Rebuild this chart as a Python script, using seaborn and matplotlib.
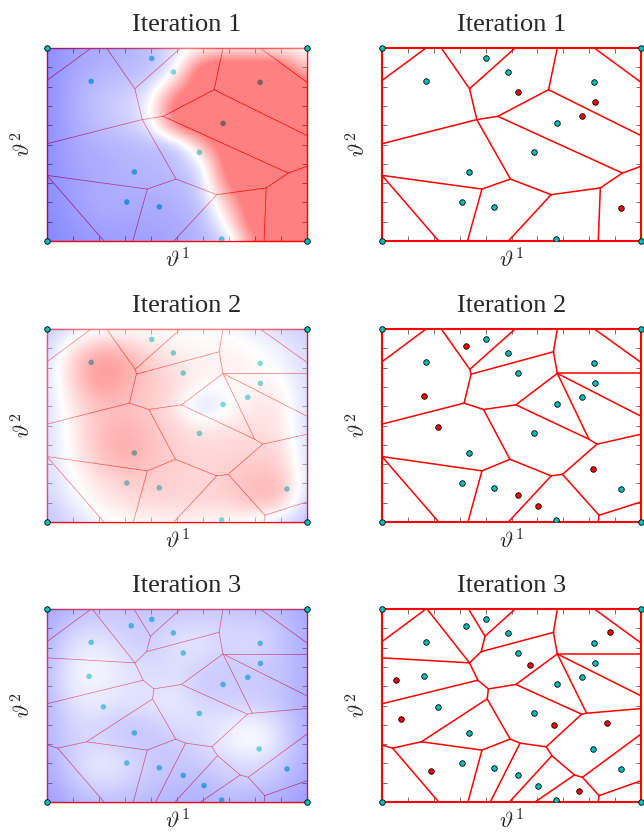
import numpy as np
import matplotlib
matplotlib.use("Agg")
import matplotlib.pyplot as plt
import seaborn as sns

# ---------------- data ----------------
titles = ["Iteration 1", "Iteration 2", "Iteration 3"]
tick_values = [0.0, 0.1, 0.2, 0.3, 0.4, 0.5, 0.6, 0.7, 0.8, 0.9, 1.0]

corner_x = [0.0, 1.0, 0.0, 1.0]
corner_y = [0.0, 0.0, 1.0, 1.0]

# samples available at iteration 1
base_x = [0.403, 0.486, 0.170, 0.820, 0.677, 0.586, 0.336, 0.307, 0.432, 0.672]
base_y = [0.946, 0.876, 0.827, 0.822, 0.609, 0.459, 0.358, 0.202, 0.177, 0.010]
# new samples proposed at each iteration (red)
new1_x = [0.524, 0.821, 0.772, 0.923]
new1_y = [0.772, 0.718, 0.646, 0.171]
new2_x = [0.324, 0.162, 0.217, 0.816, 0.524, 0.604]
new2_y = [0.913, 0.651, 0.493, 0.275, 0.138, 0.085]
new3_x = [0.879, 0.571, 0.053, 0.073, 0.663, 0.870, 0.188, 0.761]
new3_y = [0.879, 0.712, 0.633, 0.431, 0.398, 0.407, 0.160, 0.055]

# Voronoi tessellation per iteration: vertices and edges (index pairs)
vor1_vx = [0, 0.170, 0.229, 0.338, 0.514, 0.366, 0, 0.447, 0.643, 0.677, 1, 0.820,
           1, 0.928, 1, 0.843, 0.496, 0.386, 0, 0.219, 0.330, 0.653, 0.488, 0.835]
vor1_vy = [0.832, 1, 1, 0.789, 1, 0.629, 0.504, 0.646, 0.784, 1, 0.546, 1,
           0.822, 0.352, 0.387, 0.275, 0.321, 0.269, 0.340, 0, 0, 0.240, 0, 0]
vor1_edges = [(0, 1), (2, 3), (3, 4), (3, 5), (6, 5), (5, 7), (7, 8), (8, 9), (8, 10),
              (11, 12), (7, 13), (13, 14), (13, 15), (5, 16), (16, 17), (18, 17),
              (18, 19), (17, 20), (16, 21), (21, 15), (21, 22), (15, 23)]

vor2_vx = [0, 0.170, 0.229, 0.339, 0.514, 0.344, 0.662, 0.677, 0.677, 1, 0.820, 1,
           0.517, 0.799, 1, 0.830, 1, 0.697, 0.317, 0, 0.392, 0.494, 0.386, 0,
           0.219, 0.332, 0.653, 0.488, 0.838, 1, 0.835]
vor2_vy = [0.830, 1, 1, 0.791, 1, 0.766, 0.882, 1, 0.770, 0.770, 1, 0.827,
           0.607, 0.429, 0.548, 0.403, 0.455, 0.247, 0.616, 0.507, 0.583, 0.325,
           0.265, 0.339, 0, 0, 0.239, 0, 0.035, 0.104, 0]
vor2_edges = [(0, 1), (2, 3), (3, 4), (3, 5), (5, 6), (6, 7), (6, 8), (8, 9), (8, 12),
              (8, 14), (8, 13), (10, 11), (5, 18), (18, 19), (18, 20), (20, 12),
              (12, 13), (13, 15), (15, 16), (15, 17), (20, 21), (21, 22), (23, 22),
              (23, 24), (22, 25), (21, 26), (26, 17), (26, 27), (17, 28), (28, 29),
              (28, 30)]

vor3_vx = [0, 0.170, 0.174, 0.338, 0.334, 0.398, 0.514, 0.383, 0.662, 0.677, 0.677,
           1, 0.820, 1, 0, 0.370, 0, 0.411, 0.517, 1, 0.771, 0.790, 1, 0.406,
           0.152, 0.041, 0, 0.219, 0.495, 0.386, 0.332, 0.533, 0.418, 0.634, 0.656,
           0.492, 0.743, 0.591, 0.774, 1, 0.838, 1, 0.835]
vor3_vy = [0.831, 1, 1, 0.721, 1, 0.859, 1, 0.779, 0.879, 1, 0.767, 0.767, 1, 0.824,
           0.747, 0.631, 0.509, 0.586, 0.609, 0.550, 0.455, 0.460, 0.484, 0.534,
           0.312, 0.279, 0.295, 0, 0.326, 0.269, 0, 0.305, 0, 0.286, 0.240, 0,
           0.140, 0, 0.128, 0.352, 0.033, 0.110, 0]
vor3_edges = [(0, 1), (2, 3), (4, 5), (5, 6), (5, 7), (7, 8), (8, 9), (8, 10), (10, 11),
              (12, 13), (7, 3), (14, 3), (3, 15), (15, 16), (15, 17), (17, 18),
              (18, 10), (10, 19), (10, 21), (18, 20), (20, 21), (21, 22), (20, 33),
              (17, 23), (23, 24), (23, 28), (24, 29), (24, 25), (25, 26), (25, 27),
              (28, 29), (29, 30), (28, 31), (31, 32), (31, 33), (33, 34), (34, 35),
              (34, 36), (36, 38), (36, 37), (38, 39), (38, 40), (40, 41), (40, 42)]

# acquisition field read on an 11 x 11 grid (rows: y = 1.0 ... 0.0, cols: x = 0 ... 1)
field1 = [
    [-0.9, -0.75, -0.65, -0.6, -0.5, -0.2, 0.0, 0.05, 0.05, 0.0, -0.05],
    [-0.9, -0.7, -0.6, -0.55, -0.5, -0.25, 1.5, 1.5, 1.5, 1.5, 0.3],
    [-0.9, -0.65, -0.5, -0.45, -0.35, 0.6, 1.5, 1.5, 1.5, 1.5, 1.2],
    [-0.9, -0.65, -0.45, -0.35, -0.1, 1.5, 1.5, 1.5, 1.5, 1.5, 1.5],
    [-0.9, -0.65, -0.5, -0.4, -0.25, 1.2, 1.5, 1.5, 1.5, 1.5, 1.5],
    [-0.9, -0.7, -0.6, -0.55, -0.5, -0.55, 0.6, 1.5, 1.5, 1.5, 1.5],
    [-0.9, -0.7, -0.65, -0.6, -0.55, -0.5, -0.25, 1.5, 1.5, 1.5, 1.5],
    [-0.9, -0.75, -0.65, -0.6, -0.6, -0.55, -0.4, 1.2, 1.5, 1.5, 1.5],
    [-0.9, -0.75, -0.65, -0.65, -0.65, -0.6, -0.5, 0.5, 1.5, 1.5, 1.5],
    [-0.95, -0.8, -0.7, -0.7, -0.7, -0.65, -0.55, 0.1, 1.5, 1.5, 1.5],
    [-0.95, -0.85, -0.8, -0.75, -0.75, -0.7, -0.55, -0.4, 1.0, 1.5, 1.5],
]
field2 = [
    [-0.4, -0.2, -0.1, -0.05, 0.0, 0.0, 0.0, -0.05, -0.15, -0.3, -0.4],
    [-0.35, 0.2, 0.6, 0.5, 0.2, 0.1, 0.05, 0.1, 0.0, -0.1, -0.3],
    [-0.3, 0.4, 0.9, 0.7, 0.4, 0.2, 0.1, 0.15, 0.05, -0.05, -0.3],
    [-0.3, 0.3, 0.8, 0.6, 0.4, 0.3, 0.0, 0.0, 0.1, 0.1, -0.3],
    [-0.3, 0.2, 0.5, 0.5, 0.4, 0.15, -0.4, 0.0, 0.2, 0.2, -0.3],
    [-0.3, 0.1, 0.5, 0.6, 0.45, 0.3, 0.1, 0.2, 0.25, 0.2, -0.3],
    [-0.3, 0.1, 0.5, 0.7, 0.5, 0.35, 0.3, 0.3, 0.3, 0.3, -0.3],
    [-0.3, 0.05, 0.4, 0.6, 0.45, 0.35, 0.3, 0.35, 0.4, 0.4, -0.3],
    [-0.3, -0.05, 0.2, 0.35, 0.4, 0.35, 0.3, 0.4, 0.55, 0.6, -0.3],
    [-0.4, -0.1, 0.1, 0.25, 0.3, 0.3, 0.3, 0.35, 0.5, 0.5, -0.4],
    [-0.5, -0.3, -0.1, 0.0, 0.05, 0.1, 0.05, 0.0, -0.1, -0.3, -0.5],
]
field3 = [
    [-0.7, -0.55, -0.45, -0.45, -0.45, -0.45, -0.45, -0.45, -0.5, -0.55, -0.7],
    [-0.65, -0.35, -0.3, -0.4, -0.4, -0.3, -0.25, -0.35, -0.3, -0.45, -0.65],
    [-0.6, -0.2, -0.15, -0.3, -0.4, -0.2, -0.2, -0.35, -0.25, -0.45, -0.65],
    [-0.55, -0.1, -0.05, -0.2, -0.3, -0.25, -0.35, -0.4, -0.4, -0.45, -0.65],
    [-0.55, -0.1, -0.1, -0.2, -0.25, -0.2, -0.45, -0.4, -0.4, -0.45, -0.65],
    [-0.6, -0.2, -0.15, -0.25, -0.2, -0.15, -0.3, -0.35, -0.35, -0.45, -0.65],
    [-0.6, -0.3, -0.3, -0.45, -0.4, -0.25, -0.25, -0.15, -0.05, -0.3, -0.65],
    [-0.6, -0.35, -0.3, -0.4, -0.45, -0.4, -0.3, -0.1, 0.05, -0.25, -0.65],
    [-0.65, -0.35, -0.1, -0.25, -0.4, -0.45, -0.4, -0.3, -0.25, -0.4, -0.65],
    [-0.7, -0.45, -0.25, -0.35, -0.45, -0.5, -0.55, -0.4, -0.4, -0.5, -0.7],
    [-0.8, -0.6, -0.5, -0.5, -0.55, -0.6, -0.6, -0.55, -0.6, -0.65, -0.8],
]

# ---------------- assemble iterations ----------------
samples_x = [base_x, base_x + new1_x, base_x + new1_x + new2_x]
samples_y = [base_y, base_y + new1_y, base_y + new1_y + new2_y]
news_x = [new1_x, new2_x, new3_x]
news_y = [new1_y, new2_y, new3_y]
vors = [(vor1_vx, vor1_vy, vor1_edges), (vor2_vx, vor2_vy, vor2_edges),
        (vor3_vx, vor3_vy, vor3_edges)]
fields = [field1, field2, field3]

# ---------------- style ----------------
sns.set_style("ticks")
plt.rcParams["font.family"] = ["Liberation Serif", "DejaVu Serif"]
plt.rcParams["mathtext.fontset"] = "cm"

TEAL = (0.0, 0.75, 0.75)
RED = (1.0, 0.0, 0.0)

fig = plt.figure(figsize=(6.44, 8.36), dpi=100)
col_left = [47 / 644, 382 / 644]
col_w = [260 / 644, 259 / 644]
row_bottom = [1 - 241 / 836, 1 - 522 / 836, 1 - 802 / 836]
row_h = 193 / 836


def style_axes(ax, spine_lw):
    ax.set_xlim(0, 1)
    ax.set_ylim(0, 1)
    ax.set_xticks(tick_values)
    ax.set_yticks(tick_values)
    ax.tick_params(direction="in", length=3.5, width=0.6, color="#555555",
                   top=True, right=True, bottom=True, left=True,
                   labelbottom=False, labelleft=False)
    for sp in ax.spines.values():
        sp.set_color(RED)
        sp.set_linewidth(spine_lw)
    ax.set_xlabel(r"$\vartheta^1$", fontsize=16.5, labelpad=5)
    ax.set_ylabel(r"$\vartheta^2$", fontsize=16.5, labelpad=8)


for r in range(3):
    vx, vy, edges = vors[r]
    for c in range(2):
        ax = fig.add_axes([col_left[c], row_bottom[r], col_w[c], row_h])
        left = (c == 0)
        lw = 0.5 if left else 1.1
        for i, j in edges:
            ax.plot([vx[i], vx[j]], [vy[i], vy[j]], color=RED, lw=lw, zorder=2)
        sns.scatterplot(x=samples_x[r], y=samples_y[r], ax=ax, color=TEAL,
                        edgecolor=("none" if left else "k"), linewidth=0.6,
                        s=16, zorder=2.6, legend=False)
        if left:
            ax.imshow(np.array(fields[r]), cmap="bwr", vmin=-1, vmax=1, alpha=0.5,
                      extent=[-0.05, 1.05, -0.05, 1.05], origin="upper",
                      interpolation="bicubic", interpolation_stage="data",
                      aspect="auto", zorder=3)
        else:
            sns.scatterplot(x=news_x[r], y=news_y[r], ax=ax, color=RED,
                            edgecolor="k", linewidth=0.6, s=16, zorder=2.6,
                            legend=False)
        sns.scatterplot(x=corner_x, y=corner_y, ax=ax, color=TEAL, edgecolor="k",
                        linewidth=0.6, s=16, zorder=5, clip_on=False, legend=False)
        style_axes(ax, 1.0 if left else 1.5)
        ax.set_title(titles[r], fontsize=19, pad=12, x=(0.537 if left else 0.5))

fig.savefig("out.png", dpi=100)
